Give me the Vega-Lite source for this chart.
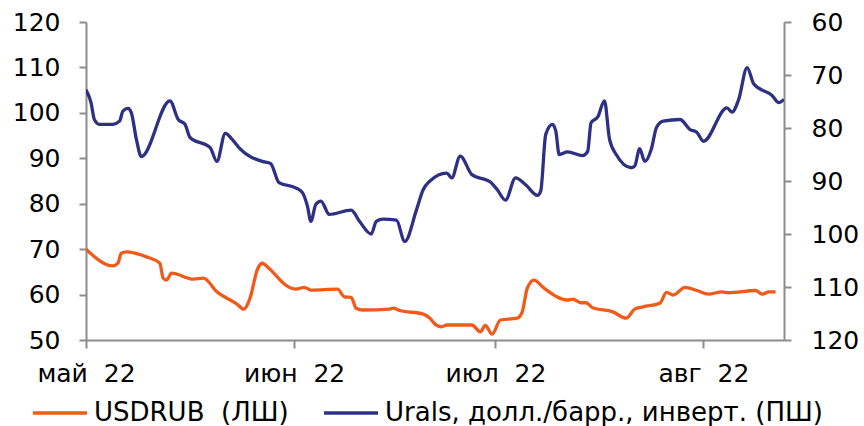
{
  "$schema": "https://vega.github.io/schema/vega-lite/v6.json",
  "autosize": "none",
  "width": 698,
  "height": 318,
  "padding": {"left": 86, "top": 22, "right": 80, "bottom": 86},
  "background": "white",
  "config": {
    "view": {"stroke": null},
    "font": "DejaVu Sans",
    "axis": {
      "labelFont": "DejaVu Sans",
      "labelFontSize": 25,
      "labelColor": "#000000",
      "domainColor": "#8c8c8c",
      "domainWidth": 2,
      "tickColor": "#8c8c8c",
      "tickWidth": 2,
      "grid": false,
      "title": null
    }
  },
  "datasets": {
    "usdrub": [
      {"date": "2022-05-01T00:00", "v": 70.0},
      {"date": "2022-05-05T00:00", "v": 66.3},
      {"date": "2022-05-05T18:00", "v": 66.9},
      {"date": "2022-05-06T06:00", "v": 69.1},
      {"date": "2022-05-07T00:00", "v": 69.4},
      {"date": "2022-05-10T00:00", "v": 68.3},
      {"date": "2022-05-12T00:00", "v": 66.9},
      {"date": "2022-05-12T12:00", "v": 63.6},
      {"date": "2022-05-13T00:00", "v": 63.2},
      {"date": "2022-05-13T18:00", "v": 64.7},
      {"date": "2022-05-17T00:00", "v": 63.4},
      {"date": "2022-05-18T12:00", "v": 63.6},
      {"date": "2022-05-20T12:00", "v": 60.6},
      {"date": "2022-05-23T12:00", "v": 57.9},
      {"date": "2022-05-24T12:00", "v": 56.8},
      {"date": "2022-05-25T12:00", "v": 59.5},
      {"date": "2022-05-26T12:00", "v": 65.4},
      {"date": "2022-05-27T06:00", "v": 66.9},
      {"date": "2022-05-28T06:00", "v": 65.8},
      {"date": "2022-05-30T18:00", "v": 62.1},
      {"date": "2022-06-01T06:00", "v": 61.2},
      {"date": "2022-06-02T12:00", "v": 61.6},
      {"date": "2022-06-03T12:00", "v": 61.0},
      {"date": "2022-06-07T12:00", "v": 61.2},
      {"date": "2022-06-08T12:00", "v": 59.5},
      {"date": "2022-06-09T12:00", "v": 59.4},
      {"date": "2022-06-10T06:00", "v": 57.0},
      {"date": "2022-06-11T06:00", "v": 56.6},
      {"date": "2022-06-15T06:00", "v": 56.8},
      {"date": "2022-06-15T18:00", "v": 57.0},
      {"date": "2022-06-16T18:00", "v": 56.5},
      {"date": "2022-06-20T06:00", "v": 55.7},
      {"date": "2022-06-21T06:00", "v": 54.8},
      {"date": "2022-06-22T00:00", "v": 53.5},
      {"date": "2022-06-23T00:00", "v": 52.9},
      {"date": "2022-06-23T18:00", "v": 53.3},
      {"date": "2022-06-27T12:00", "v": 53.3},
      {"date": "2022-06-28T18:00", "v": 51.8},
      {"date": "2022-06-29T12:00", "v": 53.2},
      {"date": "2022-06-30T12:00", "v": 51.3},
      {"date": "2022-07-01T18:00", "v": 54.4},
      {"date": "2022-07-04T06:00", "v": 54.8},
      {"date": "2022-07-05T00:00", "v": 56.2},
      {"date": "2022-07-05T18:00", "v": 61.4},
      {"date": "2022-07-06T18:00", "v": 63.2},
      {"date": "2022-07-08T06:00", "v": 61.4},
      {"date": "2022-07-11T18:00", "v": 58.8},
      {"date": "2022-07-12T12:00", "v": 59.0},
      {"date": "2022-07-13T18:00", "v": 58.2},
      {"date": "2022-07-14T12:00", "v": 58.2},
      {"date": "2022-07-15T12:00", "v": 57.1},
      {"date": "2022-07-18T12:00", "v": 56.2},
      {"date": "2022-07-20T12:00", "v": 54.8},
      {"date": "2022-07-21T18:00", "v": 56.8},
      {"date": "2022-07-23T00:00", "v": 57.3},
      {"date": "2022-07-25T12:00", "v": 58.1},
      {"date": "2022-07-26T12:00", "v": 60.5},
      {"date": "2022-07-27T12:00", "v": 59.9},
      {"date": "2022-07-29T06:00", "v": 61.6},
      {"date": "2022-07-31T00:00", "v": 60.9},
      {"date": "2022-08-01T18:00", "v": 60.1},
      {"date": "2022-08-03T18:00", "v": 60.6},
      {"date": "2022-08-04T18:00", "v": 60.4},
      {"date": "2022-08-08T18:00", "v": 60.9},
      {"date": "2022-08-09T18:00", "v": 60.1},
      {"date": "2022-08-10T18:00", "v": 60.6},
      {"date": "2022-08-11T18:00", "v": 60.6}
    ],
    "urals": [
      {"date": "2022-05-01T00:00", "v": 72.8},
      {"date": "2022-05-01T18:00", "v": 75.2},
      {"date": "2022-05-02T06:00", "v": 78.4},
      {"date": "2022-05-03T00:00", "v": 79.3},
      {"date": "2022-05-05T00:00", "v": 79.3},
      {"date": "2022-05-06T00:00", "v": 78.7},
      {"date": "2022-05-06T12:00", "v": 76.8},
      {"date": "2022-05-07T06:00", "v": 76.3},
      {"date": "2022-05-07T18:00", "v": 77.1},
      {"date": "2022-05-08T12:00", "v": 82.1},
      {"date": "2022-05-09T06:00", "v": 85.4},
      {"date": "2022-05-13T12:00", "v": 74.9},
      {"date": "2022-05-14T18:00", "v": 78.4},
      {"date": "2022-05-15T18:00", "v": 79.3},
      {"date": "2022-05-16T12:00", "v": 81.8},
      {"date": "2022-05-19T12:00", "v": 83.7},
      {"date": "2022-05-20T12:00", "v": 86.3},
      {"date": "2022-05-21T18:00", "v": 81.0},
      {"date": "2022-05-22T18:00", "v": 82.1},
      {"date": "2022-05-24T00:00", "v": 84.0},
      {"date": "2022-05-27T06:00", "v": 86.3},
      {"date": "2022-05-28T12:00", "v": 86.7},
      {"date": "2022-05-29T18:00", "v": 90.3},
      {"date": "2022-06-01T06:00", "v": 91.3},
      {"date": "2022-06-02T06:00", "v": 92.2},
      {"date": "2022-06-03T00:00", "v": 94.8},
      {"date": "2022-06-03T12:00", "v": 97.6},
      {"date": "2022-06-04T06:00", "v": 94.4},
      {"date": "2022-06-05T00:00", "v": 93.8},
      {"date": "2022-06-06T06:00", "v": 96.3},
      {"date": "2022-06-09T12:00", "v": 95.5},
      {"date": "2022-06-10T18:00", "v": 97.6},
      {"date": "2022-06-12T12:00", "v": 100.0},
      {"date": "2022-06-13T06:00", "v": 97.6},
      {"date": "2022-06-14T06:00", "v": 97.2},
      {"date": "2022-06-16T06:00", "v": 97.4},
      {"date": "2022-06-17T12:00", "v": 101.4},
      {"date": "2022-06-19T06:00", "v": 95.4},
      {"date": "2022-06-20T06:00", "v": 91.6},
      {"date": "2022-06-21T06:00", "v": 90.0},
      {"date": "2022-06-23T18:00", "v": 88.5},
      {"date": "2022-06-24T12:00", "v": 89.4},
      {"date": "2022-06-25T18:00", "v": 85.3},
      {"date": "2022-06-27T12:00", "v": 88.8},
      {"date": "2022-06-30T06:00", "v": 90.2},
      {"date": "2022-07-01T06:00", "v": 91.6},
      {"date": "2022-07-02T12:00", "v": 93.6},
      {"date": "2022-07-04T00:00", "v": 89.4},
      {"date": "2022-07-05T12:00", "v": 90.7},
      {"date": "2022-07-07T06:00", "v": 92.7},
      {"date": "2022-07-07T18:00", "v": 91.9},
      {"date": "2022-07-08T12:00", "v": 81.2},
      {"date": "2022-07-09T12:00", "v": 79.3},
      {"date": "2022-07-10T00:00", "v": 80.6},
      {"date": "2022-07-10T12:00", "v": 85.0},
      {"date": "2022-07-11T18:00", "v": 84.5},
      {"date": "2022-07-14T00:00", "v": 85.2},
      {"date": "2022-07-14T18:00", "v": 84.4},
      {"date": "2022-07-15T06:00", "v": 79.0},
      {"date": "2022-07-16T06:00", "v": 77.9},
      {"date": "2022-07-17T06:00", "v": 74.9},
      {"date": "2022-07-18T00:00", "v": 82.1},
      {"date": "2022-07-19T00:00", "v": 85.0},
      {"date": "2022-07-21T06:00", "v": 87.5},
      {"date": "2022-07-21T18:00", "v": 87.2},
      {"date": "2022-07-22T12:00", "v": 83.9},
      {"date": "2022-07-23T06:00", "v": 86.3},
      {"date": "2022-07-24T06:00", "v": 83.9},
      {"date": "2022-07-25T00:00", "v": 79.9},
      {"date": "2022-07-26T00:00", "v": 78.7},
      {"date": "2022-07-28T12:00", "v": 78.4},
      {"date": "2022-07-30T00:00", "v": 80.3},
      {"date": "2022-07-31T00:00", "v": 80.8},
      {"date": "2022-08-01T00:00", "v": 82.5},
      {"date": "2022-08-04T12:00", "v": 76.2},
      {"date": "2022-08-05T06:00", "v": 77.0},
      {"date": "2022-08-06T06:00", "v": 74.6},
      {"date": "2022-08-07T12:00", "v": 68.6},
      {"date": "2022-08-08T12:00", "v": 71.7},
      {"date": "2022-08-11T06:00", "v": 73.9},
      {"date": "2022-08-12T06:00", "v": 75.2},
      {"date": "2022-08-13T00:00", "v": 74.6}
    ]
  },
  "encoding": {
    "x": {
      "field": "date",
      "type": "temporal",
      "scale": {"domain": [{"year": 2022, "month": 5, "date": 1}, {"year": 2022, "month": 8, "date": 13}]},
      "axis": {
        "values": [
          {"year": 2022, "month": 5, "date": 1},
          {"year": 2022, "month": 6, "date": 1},
          {"year": 2022, "month": 7, "date": 1},
          {"year": 2022, "month": 8, "date": 1}
        ],
        "labelExpr": "['янв','фев','мар','апр','май','июн','июл','авг','сен','окт','ноя','дек'][month(datum.value)] + '\u00a0\u00a022'",
        "tickSize": 8,
        "labelPadding": 13,
        "labelAlign": "center"
      }
    }
  },
  "layer": [
    {
      "data": {"name": "usdrub"},
      "mark": {"type": "line", "interpolate": "monotone", "strokeWidth": 3.3, "clip": true},
      "encoding": {
        "y": {
          "field": "v",
          "type": "quantitative",
          "scale": {"domain": [50, 120], "nice": false, "zero": false},
          "axis": {"orient": "left", "values": [50, 60, 70, 80, 90, 100, 110, 120], "tickSize": 7, "labelPadding": 19}
        },
        "color": {
          "datum": "USDRUB\u00a0\u00a0(ЛШ)",
          "type": "nominal",
          "scale": {"domain": ["USDRUB\u00a0\u00a0(ЛШ)", "Urals, долл./барр., инверт. (ПШ)"], "range": ["#F05A1A", "#2E3084"]},
          "legend": {
            "title": null,
            "orient": "none",
            "legendX": -55,
            "legendY": 362,
            "direction": "horizontal",
            "symbolType": "stroke",
            "symbolSize": 2916,
            "symbolStrokeWidth": 3.5,
            "labelFont": "DejaVu Sans",
            "labelFontSize": 26,
            "labelColor": "#000000",
            "labelOffset": 5,
            "columnPadding": 28,
            "labelLimit": 700
          }
        }
      }
    },
    {
      "data": {"name": "urals"},
      "mark": {"type": "line", "interpolate": "monotone", "strokeWidth": 3.3, "clip": true},
      "encoding": {
        "y": {
          "field": "v",
          "type": "quantitative",
          "scale": {"domain": [60, 120], "nice": false, "zero": false, "reverse": true},
          "axis": {"orient": "right", "values": [60, 70, 80, 90, 100, 110, 120], "tickSize": 7, "labelPadding": 20}
        },
        "color": {"datum": "Urals, долл./барр., инверт. (ПШ)", "type": "nominal"}
      }
    }
  ],
  "resolve": {"scale": {"y": "independent"}}
}
